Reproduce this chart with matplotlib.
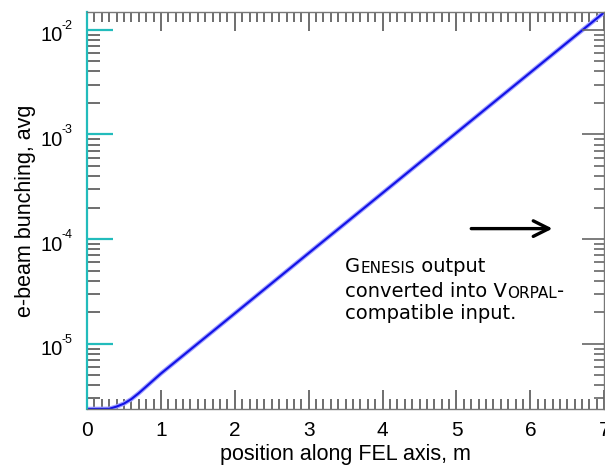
import matplotlib
matplotlib.use('Agg')
import matplotlib.pyplot as plt
from matplotlib.ticker import LogLocator, MultipleLocator, NullFormatter, FixedLocator
from matplotlib.transforms import ScaledTranslation

plt.rcParams['font.family'] = ['Liberation Sans', 'DejaVu Sans']

# average bunching vs. position along the undulator
position = [0.0, 0.3, 0.4, 0.5, 0.6, 0.7, 0.8, 1.0, 2.0, 3.0, 4.0, 5.0,
            6.0, 7.0]
bunching = [2.38e-6, 2.39e-6, 2.51e-6, 2.68e-6, 2.96e-6, 3.37e-6, 3.89e-6,
            5.19e-6, 1.95e-5, 7.35e-5, 2.76e-4, 1.04e-3, 3.91e-3, 1.47e-2]

x_ticks = [0, 1, 2, 3, 4, 5, 6, 7]
y_ticks = [1e-5, 1e-4, 1e-3, 1e-2]
y_exponents = ['-5', '-4', '-3', '-2']
x_range = (0, 7)
y_range = (2.38e-6, 1.48e-2)

arrow_from = (5.2, 1.26e-4)
arrow_to = (6.3, 1.26e-4)
note_at = (3.49, 4.42e-5)

fig = plt.figure(figsize=(6.05, 4.67), dpi=100)
ax = fig.add_axes([0.1438, 0.1242, 0.855, 0.8501])

ax.plot(position, bunching, color='#a0a0ff', lw=3.2, solid_capstyle='round')
ax.plot(position, bunching, color='#1212e6', lw=1.5)

ax.set_yscale('log')
ax.set_xlim(*x_range)
ax.set_ylim(*y_range)

ax.xaxis.set_major_locator(FixedLocator(x_ticks))
ax.xaxis.set_minor_locator(MultipleLocator(0.1))
ax.set_xticklabels([str(t) for t in x_ticks])
ax.yaxis.set_major_locator(FixedLocator(y_ticks))
ax.set_yticklabels(['10'] * len(y_ticks))
ax.yaxis.set_minor_locator(LogLocator(base=10, subs=range(2, 10)))
ax.yaxis.set_minor_formatter(NullFormatter())

ax.tick_params(axis='x', which='both', direction='in', top=True, bottom=True,
               color='#555555', width=1.2, labelsize=15, pad=9)
ax.tick_params(axis='x', which='major', length=13.5)
ax.tick_params(axis='x', which='minor', length=7)
ax.tick_params(axis='y', which='both', direction='in', left=True, right=False,
               labelsize=14.5, pad=17.5)
ax.tick_params(axis='y', which='major', length=19, width=1.6, color='#22bcbc')
ax.tick_params(axis='y', which='minor', length=9.5, width=1.2, color='#555555')

# nudge the "10" down a little so the exponent sits above it
for lab in ax.get_yticklabels():
    lab.set_transform(lab.get_transform() +
                      ScaledTranslation(0, -3 / 72, fig.dpi_scale_trans))
for tick, expo in zip(y_ticks, y_exponents):
    ax.annotate(expo, xy=(0, tick), xycoords=ax.get_yaxis_transform(),
                xytext=(-18, 3), textcoords='offset points', fontsize=9,
                ha='left', va='center')

# right-hand ticks are shorter than the left ones
ax2 = ax.twinx()
ax2.set_yscale('log')
ax2.set_ylim(*y_range)
ax2.yaxis.set_major_locator(FixedLocator(y_ticks))
ax2.yaxis.set_minor_locator(LogLocator(base=10, subs=range(2, 10)))
ax2.yaxis.set_major_formatter(NullFormatter())
ax2.yaxis.set_minor_formatter(NullFormatter())
ax2.tick_params(axis='y', which='both', direction='in', right=True,
                color='#666666', width=1.2)
ax2.tick_params(axis='y', which='major', length=16)
ax2.tick_params(axis='y', which='minor', length=7)
for s in ax2.spines.values():
    s.set_visible(False)

for side in ['top', 'bottom', 'right']:
    ax.spines[side].set_color('#777777')
    ax.spines[side].set_linewidth(1.0)
ax.spines['left'].set_color('#22bcbc')
ax.spines['left'].set_linewidth(1.6)

ax.set_xlabel('position along FEL axis, m', fontsize=15.5, labelpad=2.5)
ax.set_ylabel('e-beam bunching, avg', fontsize=15.5, labelpad=3)

ax.annotate('', xy=arrow_to, xytext=arrow_from,
            arrowprops=dict(arrowstyle='->', color='black', lw=2.4,
                            mutation_scale=28, shrinkA=0, shrinkB=0))

# note text with small caps for the code names
big, small = 14, 11
note_font = ['DejaVu Sans']


def note_line(pieces, dy):
    """Write one line of mixed-size text, each piece after the previous."""
    prev = ax.annotate(pieces[0][0], xy=note_at, xycoords='data',
                       xytext=(0, dy), textcoords='offset points',
                       fontsize=pieces[0][1], family=note_font, va='bottom')
    for text, size in pieces[1:]:
        prev = ax.annotate(text, xy=(1, 0), xycoords=prev, fontsize=size,
                           family=note_font, va='bottom')


note_line([('G', big), ('ENESIS', small), (' output', big)], 0)
note_line([('converted into V', big), ('ORPAL', small), ('-', big)], -17.5)
note_line([('compatible input.', big)], -34)

fig.savefig('out.png', dpi=100)
